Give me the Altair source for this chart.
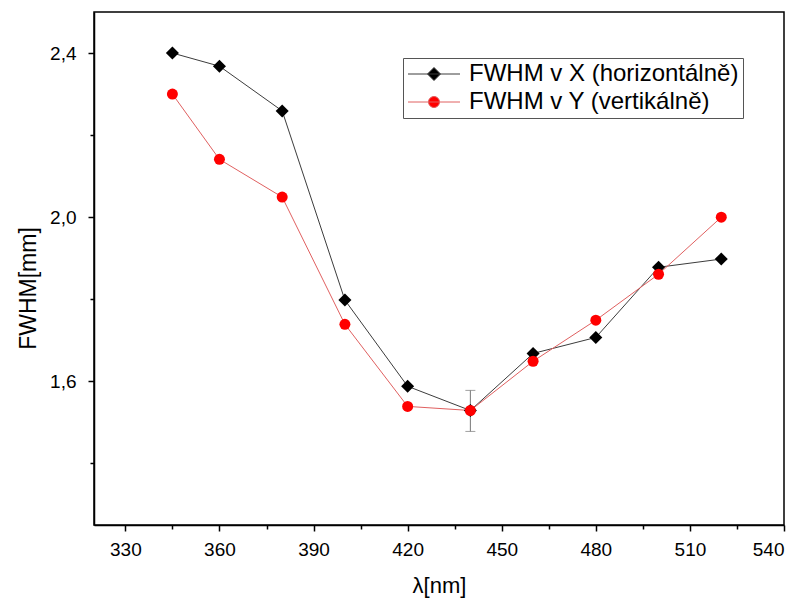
import altair as alt
import pandas as pd

# ---- data ----
wavelength = [345, 360, 380, 400, 420, 440, 460, 480, 500, 520]
fwhm_x = [2.400, 2.368, 2.259, 1.798, 1.588, 1.529, 1.668, 1.707, 1.878, 1.898]
fwhm_y = [2.300, 2.141, 2.049, 1.739, 1.539, 1.529, 1.649, 1.749, 1.861, 2.000]
series_names = ["FWHM v X (horizontálně)", "FWHM v Y (vertikálně)"]
err_x = [440]
err_lo = [1.478]
err_hi = [1.578]
x_ticks = [330, 345, 360, 375, 390, 405, 420, 435, 450, 465, 480, 495, 510, 525, 540]
y_ticks = [1.4, 1.6, 1.8, 2.0, 2.2, 2.4]

df_x = pd.DataFrame({"lam": wavelength, "fwhm": fwhm_x, "series": series_names[0]})
df_y = pd.DataFrame({"lam": wavelength, "fwhm": fwhm_y, "series": series_names[1]})
df_all = pd.concat([df_x, df_y], ignore_index=True)
df_err = pd.DataFrame({"lam": err_x, "lo": err_lo, "hi": err_hi})
df_caps = pd.DataFrame({"lam": err_x * 2, "v": err_lo + err_hi})

W, H = 690, 513
FONT = "Liberation Sans"

xscale = alt.Scale(domain=[320, 540], nice=False, zero=False)
yscale = alt.Scale(domain=[1.25, 2.5], nice=False, zero=False)

x_axis = alt.Axis(
    title="λ[nm]",
    values=x_ticks,
    labelExpr="datum.value % 30 === 0 ? datum.label : ''",
    tickSize={"condition": {"test": "datum.value % 30 === 0", "value": 6}, "value": 4},
    labelPadding=9,
    titleY=60,
    titleBaseline="middle",
    titleFontSize=22,
    grid=False,
)
y_axis = alt.Axis(
    title="FWHM[mm]",
    values=y_ticks,
    labelExpr="round(datum.value*10) % 4 === 0 ? replace(format(datum.value, '.1f'), '.', ',') : ''",
    tickSize={"condition": {"test": "round(datum.value*10) % 4 === 0", "value": 6}, "value": 4},
    labelPadding=12,
    titleX=-66,
    titleY=276,
    titleBaseline="middle",
    titleFontSize=23,
    grid=False,
)

X = alt.X("lam:Q", scale=xscale, axis=x_axis)
Y = alt.Y("fwhm:Q", scale=yscale, axis=y_axis)

err_rule = alt.Chart(df_err).mark_rule(color="#777777", strokeWidth=1).encode(
    x=alt.X("lam:Q", scale=xscale), y=alt.Y("lo:Q", scale=yscale), y2="hi:Q"
)
err_caps = alt.Chart(df_caps).mark_tick(orient="horizontal", color="#777777", size=10, thickness=1).encode(
    x=alt.X("lam:Q", scale=xscale), y=alt.Y("v:Q", scale=yscale)
)

line_x = alt.Chart(df_x).mark_line(color="#3c3c3c", strokeWidth=1).encode(x=X, y=Y)
line_y = alt.Chart(df_y).mark_line(color="#e06060", strokeWidth=1).encode(x=X, y=Y)
pts_x = alt.Chart(df_x).mark_point(shape="diamond", filled=True, color="black", size=170, opacity=1).encode(x=X, y=Y)
pts_y = alt.Chart(df_y).mark_point(shape="circle", filled=True, color="#ff0000", size=121, opacity=1).encode(x=X, y=Y)

# legend symbols: a line through a marker (path units scaled by sqrt(size)/2 = 10px)
diamond_path = "M-2.6,0H2.6M0,-0.65L0.65,0L0,0.65L-0.65,0Z"
circle_path = "M-2.6,0H2.6M0.55,0A0.55,0.55,0,1,1,-0.55,0A0.55,0.55,0,1,1,0.55,0Z"

leg = alt.Legend(
    title=None, orient="none", legendX=309, legendY=46,
    padding=4, strokeColor="#555555", fillColor="white",
    labelFont=FONT, labelFontSize=24, labelColor="black", labelOffset=23, labelLimit=500,
    symbolSize=400, symbolOffset=15, symbolStrokeWidth=1, symbolOpacity=1, rowPadding=4,
)
legend_layer = alt.Chart(df_all).mark_point(filled=False, opacity=0).encode(
    x=X, y=Y,
    fill=alt.Fill("series:N", scale=alt.Scale(domain=series_names, range=["black", "#ff0000"]), legend=leg),
    stroke=alt.Stroke("series:N", scale=alt.Scale(domain=series_names, range=["#3c3c3c", "#e06060"]), legend=leg),
    shape=alt.Shape("series:N", scale=alt.Scale(domain=series_names, range=[diamond_path, circle_path]), legend=leg),
)

chart = alt.layer(err_rule, err_caps, line_x, line_y, pts_x, pts_y, legend_layer).properties(
    width=W, height=H,
    autosize=alt.AutoSizeParams(type="none"),
    padding={"left": 86, "top": 4, "right": 11, "bottom": 76},
).configure_view(
    stroke="black", strokeWidth=1.5
).configure_axis(
    domainColor="black", domainWidth=1.5, tickColor="black", tickWidth=1.5,
    labelFont=FONT, labelFontSize=19, labelColor="black",
    titleFont=FONT, titleFontWeight="normal", titleColor="black",
)

chart.save("out.html", embed_options={"renderer": "svg", "actions": False})
